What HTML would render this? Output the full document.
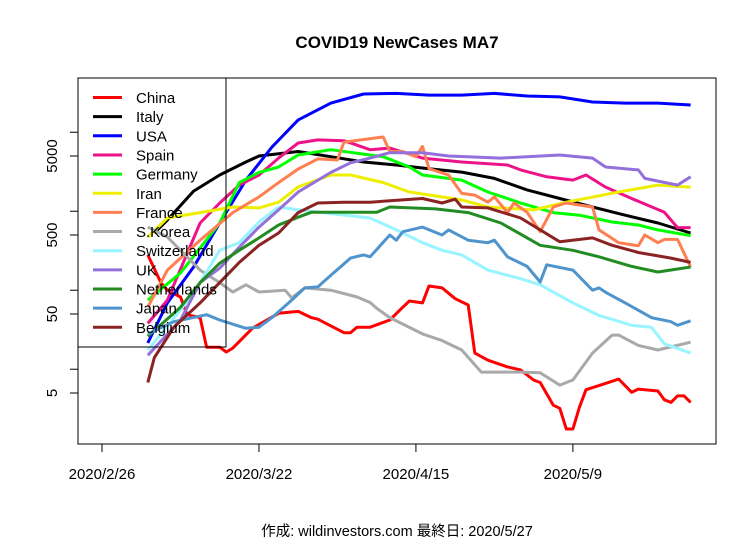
<!DOCTYPE html>
<html><head><meta charset="utf-8">
<style>
html,body{margin:0;padding:0;background:#fff;}
svg{display:block;font-family:"Liberation Sans","Noto Sans CJK JP",sans-serif;}
</style></head>
<body>
<svg id="chart" width="756" height="542" viewBox="0 0 756 542" xmlns="http://www.w3.org/2000/svg">
<rect x="0" y="0" width="756" height="542" fill="#fff"/>
<text x="397" y="48" font-size="17" font-weight="bold" text-anchor="middle">COVID19 NewCases MA7</text>
<text x="397" y="536" font-size="14.5" text-anchor="middle">作成: wildinvestors.com 最終日: 2020/5/27</text>
<g id="series"></g>
<rect x="78" y="78" width="638" height="366" fill="none" stroke="#000" stroke-width="1"/>
<g id="axes"></g>
<g id="legend"></g>
</svg>
<script>
// x values are days since 2020/2/26
const xTickLabels = ["2020/2/26","2020/3/22","2020/4/15","2020/5/9"];
const xTickDays = [0,24,48,72];
const yTickValues = [5,10,50,100,500,1000,5000,10000];
const yTickLabels = ["5","","50","","500","","5000",""];
const seriesNames = ["China","Italy","USA","Spain","Germany","Iran","France","S.Korea","Switzerland","UK","Netherlands","Japan","Belgium"];
const seriesColors = ["#FF0000","#000000","#0000FF","#EE1289","#00FF00","#EEEE00","#FF7F50","#A9A9A9","#98F5FF","#9370DB","#228B22","#4F94CD","#8B2323"];

const chinaDays = [7,9,10,12,13,15,16,18,19,20,23,27,30,32,33,37,38,39,41,44,46,47,49,50,52,54,56,57,59,62,64,66,67,69,70,71,72,73,74,76,79,81,82,85,86,87,88,89,90];
const chinaVals = [280,125,100,82,49,45,19,19,16.5,18.5,33,51,54,45,43,29,29,34,34,42,61,73,69,113,107,78,65,16,13,10.7,9.8,7.3,6.8,3.5,3.2,1.75,1.75,3.3,5.5,6.2,7.5,5.1,5.6,5.3,4.1,3.8,4.6,4.6,3.8];

const italyDays = [8,10,14,18,22,24,30,35,40,45,50,55,60,65,70,75,80,85,90];
const italyVals = [530,775,1800,2870,4200,5000,5700,4900,4200,3850,3450,3130,2600,1860,1450,1130,890,710,530];

const usaDays = [7,10,14,18,22,26,30,35,40,45,50,55,60,65,70,75,80,85,90];
const usaVals = [21.5,69,197,710,2480,6500,14300,23400,30500,31000,29500,29500,31000,28700,28000,24100,23400,23400,22100];

const spainDays = [7,10,15,18,21,24,27,30,33,37,41,44,49,55,62,64,68,72,74,77,81,86,88,90];
const spainVals = [38,75,710,1270,2140,2870,4700,7300,8000,7800,6000,6300,4700,4200,3850,3330,2730,2480,2870,2020,1450,970,620,620];

const germanyDays = [7,12,18,21,24,27,30,35,43,41,47,49,55,59,64,69,73,78,82,85,90];
const germanyVals = [75,165,710,2300,3100,3630,5150,6000,4900,5150,3630,2870,2480,1750,1270,960,890,730,670,580,490];

const iranDays = [7,10,15,20,24,27,30,35,38,43,47,55,59,66,71,79,85,90];
const iranVals = [470,820,960,1130,1100,1300,2030,2870,2870,2300,1750,1390,1130,1040,1300,1750,2140,2020];

const franceDays = [7,10,15,20,24,27,30,33,36,37,43,44,46,48,49,50,53,55,57,59,60,62,63,65,67,69,71,75,76,79,82,83,85,86,88,90];
const franceVals = [61,180,430,960,1520,2300,3420,4600,4450,7500,8700,5700,5700,4900,6600,3450,2870,1680,1600,1300,1520,960,1270,970,550,1130,1270,1130,580,400,365,500,400,440,440,197];

const skoreaDays = [7,10,15,18,20,22,24,28,29,31,35,39,42,41,44,49,52,55,58,64,67,70,72,75,78,79,82,85,90];
const skoreaVals = [630,470,180,125,95,117,95,100,80,107,100,82,59,70,45,28,23,17.5,9.2,9.2,9,6.3,7.3,16,27,27,20,17.5,22];

const swissDays = [7,12,15,18,21,24,27,30,41,45,49,52,55,59,64,67,72,76,81,84,86,90];
const swissVals = [17.5,56,125,320,400,730,1130,1040,820,580,400,320,280,180,140,117,69,48,36,34,21,16];

const ukDays = [7,12,15,18,21,24,27,30,35,38,41,44,49,53,61,70,75,77,82,83,88,90];
const ukVals = [15,42,125,190,350,630,1040,1750,3100,4100,4700,5500,5500,5000,4700,5150,4700,3630,3330,2600,2140,2730];

const nlDays = [7,12,15,18,21,24,27,30,32,42,44,51,56,61,67,72,76,81,85,90];
const nlVals = [26,61,125,220,320,460,670,840,970,970,1130,1070,960,710,370,320,265,200,170,197];

const japanDays = [7,11,16,18,22,24,26,29,31,33,35,38,40,41,44,45,46,49,52,53,56,59,60,62,65,67,68,72,75,76,77,80,84,87,88,90];
const japanVals = [28,40,49,42,33,34,45,75,107,110,155,255,280,265,500,430,550,630,500,580,430,400,430,265,200,127,210,180,100,107,94,69,45,40,36,41];

const belgiumDays = [7,8,11,15,18,21,24,27,30,33,37,41,49,52,54,55,59,64,67,70,75,78,82,87,90];
const belgiumVals = [6.8,14,34,69,125,225,370,530,960,1270,1300,1300,1450,1270,1420,1130,1100,820,580,410,460,370,300,255,225];

const allDays = [chinaDays,italyDays,usaDays,spainDays,germanyDays,iranDays,franceDays,skoreaDays,swissDays,ukDays,nlDays,japanDays,belgiumDays];
const allVals = [chinaVals,italyVals,usaVals,spainVals,germanyVals,iranVals,franceVals,skoreaVals,swissVals,ukVals,nlVals,japanVals,belgiumVals];

const NS = "http://www.w3.org/2000/svg";
function xScale(d){ return 102 + d*6.54; }
function yScale(v){ return 393 - 79*Math.log10(v/5); }

const sg = document.getElementById('series');
for (let i=0;i<allDays.length;i++){
  const days = allDays[i], vals = allVals[i];
  const idx = days.map((d,k)=>k).sort((a,b)=>days[a]-days[b]);
  const pts = idx.map(k=>xScale(days[k]).toFixed(1)+","+yScale(vals[k]).toFixed(1)).join(" ");
  const pl = document.createElementNS(NS,'polyline');
  pl.setAttribute('points',pts);
  pl.setAttribute('fill','none');
  pl.setAttribute('stroke',seriesColors[i]);
  pl.setAttribute('stroke-width','3');
  pl.setAttribute('stroke-linejoin','round');
  
  
  sg.appendChild(pl);
}

const ax = document.getElementById('axes');
for (let i=0;i<xTickDays.length;i++){
  const x = xScale(xTickDays[i]);
  const t = document.createElementNS(NS,'line');
  t.setAttribute('x1',x);t.setAttribute('x2',x);t.setAttribute('y1',444);t.setAttribute('y2',452);
  t.setAttribute('stroke','#000');
  
  
  ax.appendChild(t);
  const tx = document.createElementNS(NS,'text');
  tx.setAttribute('x',x);tx.setAttribute('y',479);tx.setAttribute('font-size','15');tx.setAttribute('text-anchor','middle');
  tx.textContent = xTickLabels[i];
  
  
  ax.appendChild(tx);
}
for (let i=0;i<yTickValues.length;i++){
  const y = yScale(yTickValues[i]);
  const t = document.createElementNS(NS,'line');
  t.setAttribute('x1',70);t.setAttribute('x2',78);t.setAttribute('y1',y);t.setAttribute('y2',y);
  t.setAttribute('stroke','#000');
  
  
  ax.appendChild(t);
  if (yTickLabels[i]){
    const tx = document.createElementNS(NS,'text');
    tx.setAttribute('x',0);tx.setAttribute('y',0);tx.setAttribute('font-size','15');tx.setAttribute('text-anchor','middle');
    tx.setAttribute('transform','translate(57,'+y+') rotate(-90)');
    tx.textContent = yTickLabels[i];
    
    
    ax.appendChild(tx);
  }
}

const lg = document.getElementById('legend');
const box = document.createElementNS(NS,'rect');
box.setAttribute('x',78);box.setAttribute('y',78);box.setAttribute('width',148);box.setAttribute('height',269);
box.setAttribute('fill','none');box.setAttribute('stroke','#000');


lg.appendChild(box);
for (let i=0;i<seriesNames.length;i++){
  const y = 97.5 + i*19.15;
  const l = document.createElementNS(NS,'line');
  l.setAttribute('x1',93);l.setAttribute('x2',122);l.setAttribute('y1',y);l.setAttribute('y2',y);
  l.setAttribute('stroke',seriesColors[i]);l.setAttribute('stroke-width','3');
  
  
  lg.appendChild(l);
  const tx = document.createElementNS(NS,'text');
  tx.setAttribute('x',136);tx.setAttribute('y',y+5.5);tx.setAttribute('font-size','15');
  tx.textContent = seriesNames[i];
  
  
  lg.appendChild(tx);
}
</script>
</body></html>
